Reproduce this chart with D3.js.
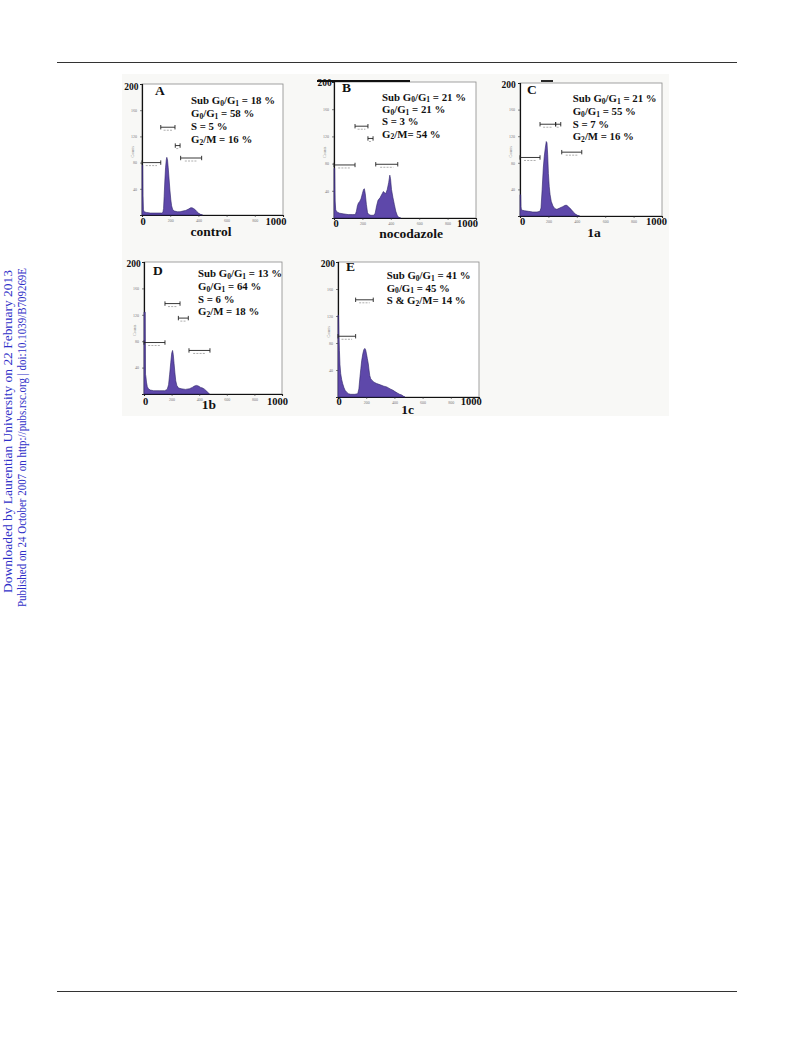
<!DOCTYPE html>
<html>
<head>
<meta charset="utf-8">
<script src="https://cdn.jsdelivr.net/npm/d3@7"></script>
<style>
  html, body { margin: 0; padding: 0; background: #ffffff; }
  svg { display: block; }
</style>
</head>
<body>
<script>
// ---------------- DATA ----------------
const panelLetters = ["A", "B", "C", "D", "E"];
const panelLabels = ["control", "nocodazole", "1a", "1b", "1c"];

// Stats text ("_x" marks a subscript character)
const statsA = ["Sub G_0/G_1 = 18 %", "G_0/G_1 = 58 %", "S = 5 %", "G_2/M = 16 %"];
const statsB = ["Sub G_0/G_1 = 21 %", "G_0/G_1 = 21 %", "S = 3 %", "G_2/M= 54 %"];
const statsC = ["Sub G_0/G_1 = 21 %", "G_0/G_1 = 55 %", "S = 7 %", "G_2/M = 16 %"];
const statsD = ["Sub G_0/G_1 = 13 %", "G_0/G_1 = 64 %", "S = 6 %", "G_2/M = 18 %"];
const statsE = ["Sub G_0/G_1 = 41 %", "G_0/G_1 = 45 %", "S & G_2/M= 14 %"];

// Histograms: [channel, count]
const histA = [[0,0],[0,76],[5,76],[7,30],[10,8],[15,5],[30,4],[60,3],[100,3],[140,3],[148,4],[153,10],[157,28],[162,52],[167,72],[172,84],[176,88],[181,84],[186,72],[192,55],[198,38],[204,24],[210,14],[218,8],[230,6],[250,5],[270,5],[290,6],[310,7],[330,9],[345,11],[355,11],[365,10],[378,8],[390,5],[400,3],[415,1],[430,0]];
const histB = [[0,0],[0,73],[5,73],[8,25],[12,12],[20,9],[40,7],[70,6],[100,5],[130,5],[150,5],[158,10],[165,18],[172,22],[180,24],[190,28],[200,36],[208,42],[214,43],[220,36],[228,20],[236,8],[245,5],[260,4],[280,4],[290,7],[300,18],[310,26],[325,30],[340,36],[348,39],[356,37],[365,36],[375,42],[385,52],[393,63],[398,58],[405,42],[415,30],[425,20],[435,10],[445,4],[455,1],[470,0]];
const histC = [[0,0],[0,32],[5,32],[7,14],[10,9],[30,8],[60,7],[90,6],[120,6],[140,7],[148,12],[156,40],[164,72],[171,90],[178,102],[185,112],[190,110],[195,92],[200,64],[206,44],[212,32],[220,22],[232,15],[246,11],[260,10],[280,12],[300,14],[318,16],[330,16],[345,13],[360,10],[375,6],[390,3],[405,1],[420,0]];
const histD = [[0,0],[0,124],[9,124],[11,30],[14,26],[18,18],[24,11],[32,8],[45,6],[70,5],[110,5],[150,5],[168,7],[178,14],[186,30],[194,48],[201,62],[207,66],[212,60],[218,46],[224,32],[230,20],[238,13],[250,9],[270,8],[300,7],[330,8],[350,10],[365,12],[380,13],[395,12],[410,10],[425,9],[440,7],[455,4],[465,2],[475,0]];
const histE = [[0,0],[0,121],[4,121],[7,90],[10,69],[14,48],[19,35],[26,26],[33,20],[42,14],[50,10],[62,7],[73,5],[90,4],[120,4],[140,5],[148,12],[156,30],[162,42],[168,54],[176,64],[183,70],[190,72],[196,70],[202,64],[208,57],[215,49],[220,40],[225,32],[232,27],[240,25],[255,22],[274,20],[300,18],[325,16],[345,15],[370,12],[390,10],[404,8],[420,6],[437,4],[452,3],[465,1],[475,0]];

// Gate markers: [start channel, end channel, count level]
const gatesA = [[0,133,80],[133,234,134],[236,270,106],[274,423,87]];
const gatesB = [[0,148,78],[148,239,135],[239,275,117],[294,449,79]];
const gatesC = [[0,141,88],[141,251,138],[251,287,138],[294,435,96]];
const gatesD = [[0,152,78],[152,261,137],[249,321,115],[326,478,66]];
const gatesE = [[0,125,90],[125,250,144]];

// Axis ticks
const xTicks = [0, 200, 400, 600, 800, 1000];
const xTinyLabels = ["200", "400", "600", "800"];
const yTicks = [0, 40, 80, 120, 160, 200];
const yTinyLabels = ["40", "80", "120", "160"];
const xBigLabels = ["0", "1000"];
const yBigLabel = "200";

const sideLines = [
  "Downloaded by Laurentian University on 22 February 2013",
  "Published on 24 October 2007 on http://pubs.rsc.org | doi:10.1039/B709269E"
];

// ---------------- LAYOUT ----------------
const layout = [
  {l:142, t:84,  r:283, b:215, letter:[155,95],    stats:[191,104,13],    label:[211,236],   y200:[138.5,90],  x0:[143,225],   x1000:[286.5,225]},
  {l:334, t:82,  r:476, b:218, letter:[342,92],    stats:[382,100.5,12.4],label:[411,237.5], y200:[331.7,85.5],x0:[336,227],   x1000:[478,227]},
  {l:520, t:83,  r:662, b:216, letter:[527,93.5],  stats:[572.7,102,12.8],label:[594,237],   y200:[515.7,88],  x0:[522.5,225], x1000:[667,225]},
  {l:144, t:262, r:282, b:394, letter:[153,275],   stats:[198,277,12.8],  label:[209,409],   y200:[140.7,267], x0:[145.5,405], x1000:[288,405]},
  {l:338, t:262, r:479, b:397, letter:[346,270.5], stats:[386.7,279,12.6],label:[407.5,414], y200:[335,267],   x0:[339,405],   x1000:[481.7,405]}
];
const statsAll = [statsA, statsB, statsC, statsD, statsE];
const histAll = [histA, histB, histC, histD, histE];
const gatesAll = [gatesA, gatesB, gatesC, gatesD, gatesE];

const SERIF = "'Liberation Serif', 'Times New Roman', serif";
const FILL = "#5e48aa";
const STAT_SIZE = 10.8;
const SUB_SHIFT = 1.7;

const svg = d3.select("body").append("svg")
  .attr("width", 793).attr("height", 1040);

// page rules
svg.append("line").attr("x1", 57).attr("x2", 737).attr("y1", 62.5).attr("y2", 62.5)
  .attr("stroke", "#333").attr("stroke-width", 1);
svg.append("line").attr("x1", 57).attr("x2", 737).attr("y1", 991.5).attr("y2", 991.5)
  .attr("stroke", "#333").attr("stroke-width", 1);

// figure background
svg.append("rect").attr("x", 122).attr("y", 74).attr("width", 547).attr("height", 342)
  .attr("fill", "#f8f8f6");

// side text
const side = svg.append("g").attr("font-family", SERIF).attr("fill", "#3030c8").attr("font-size", 11.5);
side.append("text").attr("transform", "translate(11.5,593) rotate(-90)")
  .attr("textLength", 323).attr("lengthAdjust", "spacingAndGlyphs").text(sideLines[0]);
side.append("text").attr("transform", "translate(25.5,607) rotate(-90)")
  .attr("textLength", 339).attr("lengthAdjust", "spacingAndGlyphs").text(sideLines[1]);

function addRich(textSel, str) {
  let buf = "";
  const parts = [];
  for (let i = 0; i < str.length; i++) {
    if (str[i] === "_" && i + 1 < str.length) {
      if (buf) parts.push({t: buf, sub: false});
      buf = "";
      parts.push({t: str[i + 1], sub: true});
      i++;
    } else buf += str[i];
  }
  if (buf) parts.push({t: buf, sub: false});
  let prevSub = false;
  parts.forEach(p => {
    const ts = textSel.append("tspan").text(p.t);
    if (p.sub) {
      ts.attr("font-size", "0.7em").attr("dy", prevSub ? 0 : SUB_SHIFT);
    } else if (prevSub) {
      ts.attr("dy", -SUB_SHIFT);
    }
    prevSub = p.sub;
  });
}

layout.forEach((L, i) => {
  const g = svg.append("g");
  const x = d3.scaleLinear().domain([0, 1000]).range([L.l, L.r]);
  const y = d3.scaleLinear().domain([0, 200]).range([L.b, L.t]);

  // plot background and frame
  g.append("rect").attr("x", L.l).attr("y", L.t).attr("width", L.r - L.l).attr("height", L.b - L.t)
    .attr("fill", "#ffffff").attr("stroke", "#8a8a8a").attr("stroke-width", 0.8);

  // axes (drawn before the histogram so tall spikes at channel 0 stay visible)
  const xa = g.append("g").attr("transform", `translate(0,${L.b})`)
    .call(d3.axisBottom(x).tickValues(xTicks).tickSize(2)
      .tickFormat(d => xTinyLabels.includes(String(d)) ? String(d) : ""));
  xa.select(".domain").attr("stroke", "#111").attr("stroke-width", 1.1);
  xa.selectAll(".tick line").attr("stroke", "#333").attr("stroke-width", 0.6);
  xa.selectAll(".tick text").attr("font-size", 4).attr("fill", "#777").attr("dy", "0.4em")
    .attr("font-family", SERIF);

  const ya = g.append("g").attr("transform", `translate(${L.l},0)`)
    .call(d3.axisLeft(y).tickValues(yTicks).tickSize(2)
      .tickFormat(d => yTinyLabels.includes(String(d)) ? String(d) : ""));
  ya.select(".domain").attr("stroke", "#111").attr("stroke-width", 1.2);
  ya.selectAll(".tick line").attr("stroke", "#333").attr("stroke-width", 0.6);
  ya.selectAll(".tick text").attr("font-size", 4).attr("fill", "#777").attr("font-family", SERIF);

  // histogram
  const area = d3.area().x(d => x(d[0])).y0(y(0)).y1(d => y(d[1]));
  g.append("path").datum(histAll[i]).attr("d", area)
    .attr("fill", FILL).attr("stroke", "#2c2266").attr("stroke-width", 0.6).attr("stroke-linejoin", "round");

  // tiny axis title
  g.append("text").attr("transform", `translate(${L.l - 8},${(L.t + L.b) / 2 + 8}) rotate(-90)`)
    .attr("font-size", 4).attr("fill", "#888").attr("font-family", SERIF).text("Counts");

  // gate markers
  gatesAll[i].forEach(gt => {
    const x1 = x(gt[0]), x2 = x(gt[1]), yy = y(gt[2]);
    g.append("line").attr("x1", x1).attr("x2", x2).attr("y1", yy).attr("y2", yy)
      .attr("stroke", "#222").attr("stroke-width", 0.9);
    [x1, x2].forEach(xx => g.append("line").attr("x1", xx).attr("x2", xx)
      .attr("y1", yy - 2.2).attr("y2", yy + 2.2).attr("stroke", "#222").attr("stroke-width", 0.9));
    const w = (x2 - x1) * 0.6;
    g.append("line").attr("x1", (x1 + x2) / 2 - w / 2).attr("x2", (x1 + x2) / 2 + w / 2)
      .attr("y1", yy + 3).attr("y2", yy + 3)
      .attr("stroke", "#999").attr("stroke-width", 0.8).attr("stroke-dasharray", "2,1.2");
  });

  // panel letter
  g.append("text").attr("x", L.letter[0]).attr("y", L.letter[1])
    .attr("font-family", SERIF).attr("font-weight", "bold").attr("font-size", 13.5)
    .attr("fill", "#111").text(panelLetters[i]);

  // stats
  statsAll[i].forEach((s, k) => {
    const t = g.append("text").attr("x", L.stats[0]).attr("y", L.stats[1] + k * L.stats[2])
      .attr("font-family", SERIF).attr("font-weight", "bold").attr("font-size", STAT_SIZE)
      .attr("fill", "#111");
    addRich(t, s);
  });

  // big axis labels
  g.append("text").attr("x", L.y200[0]).attr("y", L.y200[1]).attr("text-anchor", "end")
    .attr("font-family", SERIF).attr("font-weight", "bold").attr("font-size", 9.5)
    .attr("fill", "#111").text(yBigLabel);
  g.append("text").attr("x", L.x0[0]).attr("y", L.x0[1]).attr("text-anchor", "middle")
    .attr("font-family", SERIF).attr("font-weight", "bold").attr("font-size", 10.5)
    .attr("fill", "#111").text(xBigLabels[0]);
  g.append("text").attr("x", L.x1000[0]).attr("y", L.x1000[1]).attr("text-anchor", "end")
    .attr("font-family", SERIF).attr("font-weight", "bold").attr("font-size", 10.5)
    .attr("fill", "#111").text(xBigLabels[1]);

  // sample label
  g.append("text").attr("x", L.label[0]).attr("y", L.label[1]).attr("text-anchor", "middle")
    .attr("font-family", SERIF).attr("font-weight", "bold").attr("font-size", 13.5)
    .attr("fill", "#111").text(panelLabels[i]);
});

// scan artefacts: thick top strokes on panels B and C
svg.append("line").attr("x1", 317).attr("x2", 410).attr("y1", 81).attr("y2", 81)
  .attr("stroke", "#111").attr("stroke-width", 1.8);
svg.append("line").attr("x1", 541).attr("x2", 553).attr("y1", 81).attr("y2", 81)
  .attr("stroke", "#111").attr("stroke-width", 1.8);
</script>
</body>
</html>
